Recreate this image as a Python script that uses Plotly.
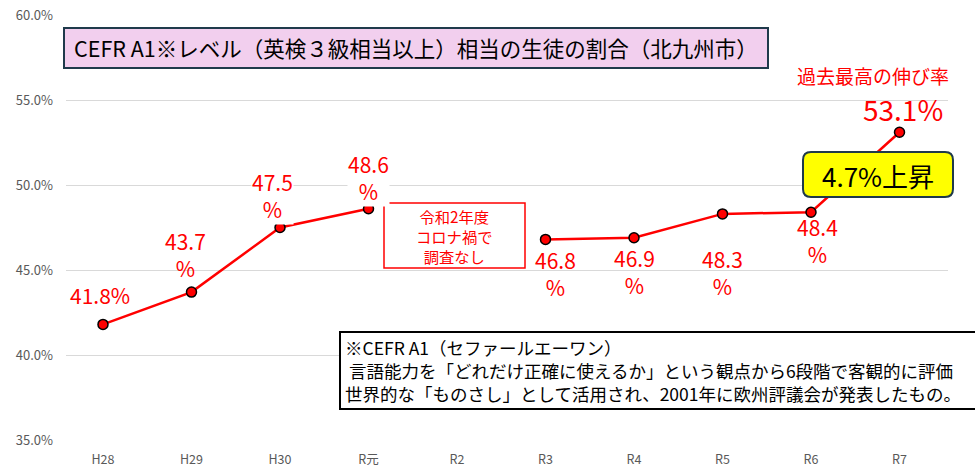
import plotly.graph_objects as go

categories = ["H28", "H29", "H30", "R元", "R2", "R3", "R4", "R5", "R6", "R7"]
values = [41.8, 43.7, 47.5, 48.6, None, 46.8, 46.9, 48.3, 48.4, 53.1]
label_texts = ["41.8%", "43.7<br>%", "47.5<br>%", "48.6<br>%", None,
               "46.8<br>%", "46.9<br>%", "48.3<br>%", "48.4<br>%", "53.1%"]
y_ticks = [35, 40, 45, 50, 55, 60]
y_tick_text = ["35.0%", "40.0%", "45.0%", "50.0%", "55.0%", "60.0%"]

title_text = "CEFR A1※レベル（英検３級相当以上）相当の生徒の割合（北九州市）"
covid_lines = ["令和2年度", "コロナ禍で", "調査なし"]
rise_text = "4.7%上昇"
record_text = "過去最高の伸び率"
note_lines = ["※CEFR A1（セファールエーワン）",
              " 言語能力を「どれだけ正確に使えるか」という観点から6段階で客観的に評価",
              "世界的な「ものさし」として活用され、2001年に欧州評議会が発表したもの。"]

W, H = 975, 468
L, R, T, B = 66, 27, 15, 28
PW, PH = W - L - R, H - T - B
FONT = "Noto Sans CJK JP"


def px(x):
    return (x - L) / PW


def py(y):
    return (H - B - y) / PH


def text_at(fig, x, y, text, size, color, anchor="center", bg=None, align="center"):
    fig.add_annotation(xref="paper", yref="paper", x=px(x), y=py(y), text=text,
                       xanchor=anchor, yanchor="middle", showarrow=False, align=align,
                       font=dict(family=FONT, size=size, color=color),
                       bgcolor=bg, borderpad=0)


fig = go.Figure()
fig.add_trace(go.Scatter(
    x=categories, y=values, mode="lines+markers", connectgaps=False,
    line=dict(color="#FF0000", width=2.5),
    marker=dict(color="#FF0000", size=10, line=dict(color="#000000", width=1.5)),
    showlegend=False, hoverinfo="skip"))

# data labels: (xshift, yshift)
offsets = [(-3, 29), (-6, 38), (-8, 32), (0, 31), None,
           (10, -34), (0, -34), (0, -59), (6, -28), (3, 23)]
bg_on = [False, False, True, True, False, False, False, False, False, False]
for c, v, t, o, bg in zip(categories, values, label_texts, offsets, bg_on):
    if v is None:
        continue
    big = (c == "R7")
    fig.add_annotation(
        x=c, y=v, text=t, showarrow=False, xshift=o[0], yshift=o[1],
        xanchor="center", yanchor="middle",
        font=dict(family=FONT, size=28 if big else 21, color="#FF0000"),
        bgcolor="#FFFFFF" if bg else None, borderpad=0)

text_at(fig, 873, 75, record_text, 19, "#FF0000", bg="#FFFFFF")

# title box
fig.add_shape(type="rect", xref="paper", yref="paper", x0=px(64), x1=px(768), y0=py(68), y1=py(28),
              fillcolor="#F2CFEE", line=dict(color="#1F3A4B", width=2), layer="above")
text_at(fig, 416, 48, title_text, 21.5, "#000000")

# covid box
fig.add_shape(type="rect", xref="paper", yref="paper", x0=px(384), x1=px(525), y0=py(268), y1=py(203),
              fillcolor="#FFFFFF", line=dict(color="#FF0000", width=1.5), layer="above")
text_at(fig, 454.5, 236, "<br>".join(covid_lines), 15.3, "#FF0000")

# rise box (rounded)
x0, x1, y0, y1, r = 803, 953, 152, 197, 8


def P(x, y):
    return f"{px(x):.5f},{py(y):.5f}"


path = (f"M{P(x0 + r, y0)} L{P(x1 - r, y0)} Q{P(x1, y0)} {P(x1, y0 + r)} "
        f"L{P(x1, y1 - r)} Q{P(x1, y1)} {P(x1 - r, y1)} L{P(x0 + r, y1)} "
        f"Q{P(x0, y1)} {P(x0, y1 - r)} L{P(x0, y0 + r)} Q{P(x0, y0)} {P(x0 + r, y0)} Z")
fig.add_shape(type="path", xref="paper", yref="paper", path=path,
              fillcolor="#FFFF00", line=dict(color="#1F3A4B", width=2), layer="above")
text_at(fig, 878, 175, rise_text, 26, "#000000")

# note box
fig.add_shape(type="rect", xref="paper", yref="paper", x0=px(340), x1=px(990), y0=py(409), y1=py(332),
              fillcolor="#FFFFFF", line=dict(color="#000000", width=2), layer="above")
text_at(fig, 344, 370.5, "<br>".join(note_lines), 17.5, "#000000", anchor="left", align="left")

fig.update_layout(
    width=W, height=H, margin=dict(l=L, r=R, t=T, b=B, autoexpand=False),
    paper_bgcolor="#FFFFFF", plot_bgcolor="#FFFFFF",
    font=dict(family=FONT),
    xaxis=dict(type="category", range=[-0.418, 9.548], showgrid=False, showline=False,
               automargin=False, ticks="", ticklabelstandoff=10,
               tickfont=dict(family=FONT, size=12.5, color="#595959")),
    yaxis=dict(range=[35, 60], tickvals=y_ticks, ticktext=y_tick_text, automargin=False,
               showgrid=True, gridcolor="#D9D9D9", gridwidth=1, zeroline=False, showline=False,
               ticks="", ticklabelstandoff=12,
               tickfont=dict(family=FONT, size=13, color="#595959")),
)

fig.write_html("out.html", config={"displayModeBar": False},
               post_script="document.body.style.margin='0';")
